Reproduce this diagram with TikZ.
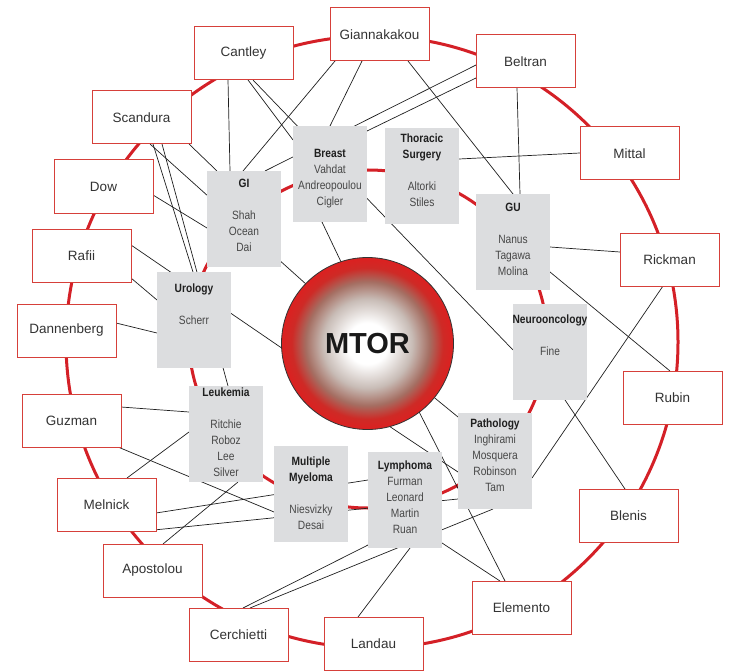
\documentclass[tikz,border=0pt]{standalone}
\usepackage{fontspec}
\setmainfont{Liberation Sans}
\newfontfamily\narrowfont[FakeStretch=0.85]{Liberation Sans}
\usetikzlibrary{calc}
\definecolor{ringred}{RGB}{212,32,39}
\definecolor{boxred}{RGB}{214,64,58}
\definecolor{boxgray}{RGB}{220,221,223}
\definecolor{mtlight}{RGB}{200,188,182}
\definecolor{mtbrown}{RGB}{165,110,98}
\definecolor{mtred}{RGB}{206,42,38}
\definecolor{mtedge}{RGB}{220,32,32}
\pgfdeclareradialshading{mtorshade}{\pgfpoint{0bp}{0bp}}{color(0bp)=(white); color(6bp)=(white); color(13bp)=(mtlight); color(18bp)=(mtbrown); color(22bp)=(mtred); color(25bp)=(mtedge); color(50bp)=(mtedge)}
\pgfdeclarelayer{bg}
\pgfsetlayers{bg,main}
\newcommand\innerfont{\narrowfont\fontsize{12}{16}\selectfont}
\newcommand\outerfont{\fontsize{13.5}{16}\selectfont}
\newcommand\mtorfont{\bfseries\fontsize{29}{32}\selectfont}
\begin{document}
\begin{tikzpicture}[x=1pt,y=-1pt,
  ring/.style={draw=ringred, line width=3pt},
  link/.style={draw=black!88, line width=0.7pt},
  outerbox/.style={draw=boxred, line width=1pt, fill=white, minimum width=99pt, minimum height=53pt, inner sep=0pt, outer sep=0pt, anchor=north west, font=\outerfont, text=black!80},
  innerbox/.style={fill=boxgray, minimum width=74pt, minimum height=96pt, inner sep=0pt, outer sep=0pt, anchor=north west},
  innertext/.style={align=center, font=\innerfont, text=black!72, inner sep=0pt},
  hub/.style={circle, minimum size=172pt, inner sep=0pt, outer sep=0pt, shading=mtorshade, draw=black!80, line width=0.8pt, font=\mtorfont, text=black!90}
]
\useasboundingbox (0,0) rectangle (730,671);

% outer ring boxes
\node[outerbox] (cant)  at (194,27)  {Cantley};
\node[outerbox] (gian)  at (330,8)   {Giannakakou};
\node[outerbox] (belt)  at (476,35)  {Beltran};
\node[outerbox] (scan)  at (92,91)   {Scandura};
\node[outerbox] (mitt)  at (580,127) {Mittal};
\node[outerbox] (dow)   at (54,160)  {Dow};
\node[outerbox] (rafii) at (32,229)  {Rafii\hspace{18pt}};
\node[outerbox] (rick)  at (620,233) {Rickman};
\node[outerbox] (dann)  at (17,304)  {Dannenberg};
\node[outerbox] (rubin) at (623,371) {Rubin};
\node[outerbox] (guz)   at (22,394)  {Guzman};
\node[outerbox] (meln)  at (57,478)  {Melnick};
\node[outerbox] (blen)  at (579,489) {Blenis};
\node[outerbox] (apos)  at (103,544) {Apostolou};
\node[outerbox] (elem)  at (472,581) {Elemento};
\node[outerbox] (cerc)  at (189,608) {Cerchietti};
\node[outerbox] (land)  at (324,617) {Landau};

% inner ring boxes
\node[innerbox] (gi)     at (207,171) {};
\node[innerbox] (breast) at (293,126) {};
\node[innerbox] (thor)   at (385,128) {};
\node[innerbox] (gu)     at (476,194) {};
\node[innerbox] (neuro)  at (513,304) {};
\node[innerbox] (uro)    at (157,272) {};
\node[innerbox] (leuk)   at (189,386) {};
\node[innerbox] (mm)     at (274,446) {};
\node[innerbox] (lymph)  at (368,452) {};
\node[innerbox] (path)   at (458,413) {};

\node[innertext] (gi-t)     at (244,215) {\textbf{\color{black!88}GI}\\\mbox{}\\Shah\\Ocean\\Dai};
\node[innertext] (breast-t) at (330,179) {\textbf{\color{black!88}Breast}\\Vahdat\\Andreopoulou\\Cigler};
\node[innertext] (thor-t)   at (422,170) {\textbf{\color{black!88}Thoracic}\\\textbf{\color{black!88}Surgery}\\\mbox{}\\Altorki\\Stiles};
\node[innertext] (gu-t)     at (513,239) {\textbf{\color{black!88}GU}\\\mbox{}\\Nanus\\Tagawa\\Molina};
\node[innertext] (neuro-t)  at (550,335) {\textbf{\color{black!88}Neurooncology}\\\mbox{}\\Fine};
\node[innertext] (uro-t)    at (194,304) {\textbf{\color{black!88}Urology}\\\mbox{}\\Scherr};
\node[innertext] (leuk-t)   at (226,432) {\textbf{\color{black!88}Leukemia}\\\mbox{}\\Ritchie\\Roboz\\Lee\\Silver};
\node[innertext] (mm-t)     at (311,493) {\textbf{\color{black!88}Multiple}\\\textbf{\color{black!88}Myeloma}\\\mbox{}\\Niesvizky\\Desai};
\node[innertext] (lymph-t)  at (405,497) {\textbf{\color{black!88}Lymphoma}\\Furman\\Leonard\\Martin\\Ruan};
\node[innertext] (path-t)   at (495,455) {\textbf{\color{black!88}Pathology}\\Inghirami\\Mosquera\\Robinson\\Tam};

% hub
\node[hub] (mtor) at (367.5,343.5) {MTOR};

\begin{pgfonlayer}{bg}
\draw[ring] (372,342) circle [radius=306];
\draw[ring] (368,339) ellipse [x radius=179, y radius=169];

\draw[link] ($(cant.north west)+(34,53)$) -- ($(gi.north west)+(23,0)$);
\draw[link] ($(cant.north west)+(54,53)$) -- ($(breast.north west)+(0,14)$);
\draw[link] ($(cant.north west)+(59,53)$) -- ($(neuro.north west)+(0,46)$);
\draw[link] ($(gian.north west)+(5,53)$) -- ($(gi.north west)+(36,0)$);
\draw[link] ($(gian.north west)+(32,53)$) -- ($(breast.north west)+(37,0)$);
\draw[link] ($(gian.north west)+(78,53)$) -- ($(gu.north west)+(37,0)$);
\draw[link] ($(belt.north west)+(0,30)$) -- ($(gi.north west)+(58,0)$);
\draw[link] ($(belt.north west)+(0,43)$) -- ($(breast.north west)+(74,5)$);
\draw[link] ($(belt.north west)+(41,53)$) -- ($(gu.north west)+(44,0)$);
\draw[link] ($(mitt.north west)+(0,26)$) -- ($(thor.north west)+(74,31)$);
\draw[link] ($(scan.north west)+(97,53)$) -- ($(gi.north west)+(10,0)$);
\draw[link] ($(scan.north west)+(58,53)$) -- (mtor.136);
\draw[link] ($(scan.north west)+(61,53)$) -- ($(uro.north west)+(36,0)$);
\draw[link] ($(scan.north west)+(70,53)$) -- ($(leuk.north west)+(39,0)$);
\draw[link] ($(dow.north west)+(99,35)$) -- ($(gi.north west)+(0,57)$);
\draw[link] ($(rafii.north west)+(99,16)$) -- (mtor.183);
\draw[link] ($(rafii.north west)+(99,49)$) -- ($(uro.north west)+(0,28)$);
\draw[link] ($(dann.north west)+(99,19)$) -- ($(uro.north west)+(0,61)$);
\draw[link] ($(breast.north west)+(29,96)$) -- (mtor.108);
\draw[link] (mtor.-39) -- ($(path.north west)+(0,4)$);
\draw[link] (mtor.-75) -- ($(path.north west)+(0,59)$);
\draw[link] (mtor.-53) -- ($(elem.north west)+(33,0)$);
\draw[link] ($(gu.north west)+(74,53)$) -- ($(rick.north west)+(0,19)$);
\draw[link] ($(gu.north west)+(74,78)$) -- ($(rubin.north west)+(47,0)$);
\draw[link] ($(path.north west)+(74,65)$) -- ($(rick.north west)+(43,53)$);
\draw[link] ($(neuro.north west)+(52,96)$) -- ($(blen.north west)+(46,0)$);
\draw[link] ($(guz.north west)+(99,13)$) -- ($(leuk.north west)+(0,26)$);
\draw[link] ($(guz.north west)+(96,53)$) -- ($(mm.north west)+(0,66)$);
\draw[link] ($(meln.north west)+(70,0)$) -- ($(leuk.north west)+(0,46)$);
\draw[link] ($(meln.north west)+(99,35)$) -- ($(lymph.north west)+(0,28)$);
\draw[link] ($(meln.north west)+(97,52)$) -- ($(path.north west)+(0,86)$);
\draw[link] ($(leuk.north west)+(49,96)$) -- ($(apos.north west)+(60,0)$);
\draw[link] ($(cerc.north west)+(54,0)$) -- ($(lymph.north west)+(0,93)$);
\draw[link] ($(cerc.north west)+(61,0)$) -- ($(path.north west)+(35,96)$);
\draw[link] ($(land.north west)+(34,0)$) -- ($(lymph.north west)+(42,96)$);
\draw[link] ($(lymph.north west)+(74,91)$) -- ($(elem.north west)+(28,0)$);
\end{pgfonlayer}
\end{tikzpicture}
\end{document}
